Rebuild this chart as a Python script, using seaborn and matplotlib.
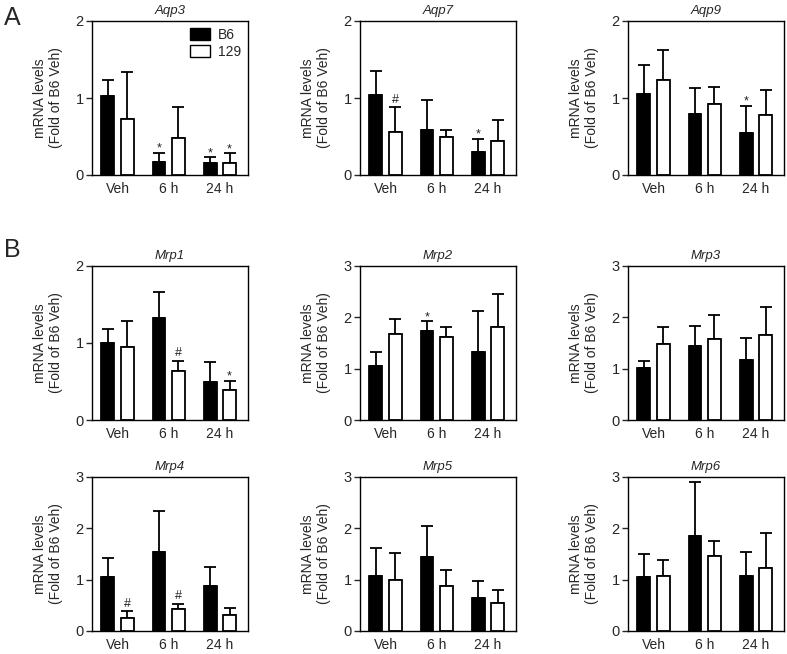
import pandas as pd
import matplotlib.pyplot as plt
import seaborn as sns
from matplotlib.patches import Patch


# Données (moyenne et écart-type, en fold of B6 Veh)
times = ["Veh", "6 h", "24 h"]
strains = ["B6", "129"]
genes = ["Aqp3", "Aqp7", "Aqp9", "Mrp1", "Mrp2", "Mrp3", "Mrp4", "Mrp5", "Mrp6"]
y_max = [2, 2, 2, 2, 3, 3, 3, 3, 3]

aqp3_b6 = [1.02, 0.17, 0.16]
aqp3_b6_sd = [0.22, 0.12, 0.07]
aqp3_129 = [0.73, 0.48, 0.16]
aqp3_129_sd = [0.61, 0.40, 0.12]

aqp7_b6 = [1.04, 0.58, 0.30]
aqp7_b6_sd = [0.31, 0.39, 0.17]
aqp7_129 = [0.56, 0.49, 0.44]
aqp7_129_sd = [0.32, 0.10, 0.27]

aqp9_b6 = [1.05, 0.79, 0.54]
aqp9_b6_sd = [0.38, 0.34, 0.36]
aqp9_129 = [1.23, 0.92, 0.78]
aqp9_129_sd = [0.39, 0.22, 0.32]

mrp1_b6 = [1.00, 1.32, 0.50]
mrp1_b6_sd = [0.18, 0.34, 0.25]
mrp1_129 = [0.95, 0.63, 0.39]
mrp1_129_sd = [0.34, 0.14, 0.12]

mrp2_b6 = [1.05, 1.74, 1.33]
mrp2_b6_sd = [0.28, 0.19, 0.80]
mrp2_129 = [1.68, 1.62, 1.81]
mrp2_129_sd = [0.29, 0.19, 0.65]

mrp3_b6 = [1.01, 1.44, 1.17]
mrp3_b6_sd = [0.13, 0.40, 0.42]
mrp3_129 = [1.49, 1.58, 1.66]
mrp3_129_sd = [0.32, 0.47, 0.55]

mrp4_b6 = [1.06, 1.53, 0.87]
mrp4_b6_sd = [0.36, 0.81, 0.37]
mrp4_129 = [0.25, 0.42, 0.31]
mrp4_129_sd = [0.13, 0.11, 0.13]

mrp5_b6 = [1.08, 1.45, 0.65]
mrp5_b6_sd = [0.53, 0.60, 0.32]
mrp5_129 = [1.00, 0.87, 0.55]
mrp5_129_sd = [0.52, 0.32, 0.25]

mrp6_b6 = [1.06, 1.85, 1.08]
mrp6_b6_sd = [0.44, 1.05, 0.45]
mrp6_129 = [1.08, 1.47, 1.23]
mrp6_129_sd = [0.31, 0.29, 0.67]

# Marques de significativité (* vs B6 Veh, # vs B6 même temps)
aqp3_b6_sig = ["", "*", "*"]
aqp3_129_sig = ["", "", "*"]
aqp7_b6_sig = ["", "", "*"]
aqp7_129_sig = ["#", "", ""]
aqp9_b6_sig = ["", "", "*"]
mrp1_129_sig = ["", "#", "*"]
mrp2_b6_sig = ["", "*", ""]
mrp4_129_sig = ["#", "#", ""]
no_sig = ["", "", ""]

panels = [
    (aqp3_b6, aqp3_b6_sd, aqp3_b6_sig, aqp3_129, aqp3_129_sd, aqp3_129_sig),
    (aqp7_b6, aqp7_b6_sd, aqp7_b6_sig, aqp7_129, aqp7_129_sd, aqp7_129_sig),
    (aqp9_b6, aqp9_b6_sd, aqp9_b6_sig, aqp9_129, aqp9_129_sd, no_sig),
    (mrp1_b6, mrp1_b6_sd, no_sig, mrp1_129, mrp1_129_sd, mrp1_129_sig),
    (mrp2_b6, mrp2_b6_sd, mrp2_b6_sig, mrp2_129, mrp2_129_sd, no_sig),
    (mrp3_b6, mrp3_b6_sd, no_sig, mrp3_129, mrp3_129_sd, no_sig),
    (mrp4_b6, mrp4_b6_sd, no_sig, mrp4_129, mrp4_129_sd, mrp4_129_sig),
    (mrp5_b6, mrp5_b6_sd, no_sig, mrp5_129, mrp5_129_sd, no_sig),
    (mrp6_b6, mrp6_b6_sd, no_sig, mrp6_129, mrp6_129_sd, no_sig),
]

sns.set_style("ticks")
plt.rcParams["font.family"] = ["Liberation Sans", "DejaVu Sans"]

W, H = 787, 654
fig = plt.figure(figsize=(W / 100, H / 100), dpi=100)

col_left = [92, 360, 628]
row_top = [21, 266, 477]
ax_w, ax_h = 156, 154

palette = {"B6": "black", "129": "white"}

for i, gene in enumerate(genes):
    b6, b6_sd, b6_sig, s129, s129_sd, s129_sig = panels[i]
    r, c = divmod(i, 3)
    left = col_left[c] / W
    bottom = (H - row_top[r] - ax_h) / H
    ax = fig.add_axes([left, bottom, ax_w / W, ax_h / H])

    df = pd.DataFrame({
        "time": times * 2,
        "strain": ["B6"] * 3 + ["129"] * 3,
        "value": b6 + s129,
    })

    sns.barplot(
        data=df, x="time", y="value", hue="strain",
        order=times, hue_order=strains, palette=palette,
        edgecolor="black", linewidth=1.3, width=0.76, gap=0.34,
        errorbar=None, legend=False, ax=ax,
    )

    for cont, sd, sig in zip(ax.containers, [b6_sd, s129_sd], [b6_sig, s129_sig]):
        xs = [bar.get_x() + bar.get_width() / 2 for bar in cont]
        ys = [bar.get_height() for bar in cont]
        ax.errorbar(xs, ys, yerr=[[0] * len(sd), sd], fmt="none",
                    ecolor="black", elinewidth=1.3, capsize=4, capthick=1.3,
                    zorder=0.5)
        for x, y, e, s in zip(xs, ys, sd, sig):
            if s:
                ax.annotate(s, (x, y + e), xytext=(0, 1 if s == "#" else -1.5),
                            textcoords="offset points", ha="center",
                            va="bottom", fontsize=9, color="#222222")

    ax.set_xlim(-0.5, 2.55)
    ax.set_ylim(0, y_max[i])
    ax.set_yticks(range(y_max[i] + 1))
    ax.set_title(gene, fontsize=9.5, fontstyle="italic", pad=5)
    ax.set_xlabel("")
    ax.set_ylabel("mRNA levels\n(Fold of B6 Veh)", fontsize=10, labelpad=9)
    ax.tick_params(axis="y", length=4, width=1, labelsize=10.5, pad=2)
    ax.tick_params(axis="x", length=0, labelsize=10, pad=5)
    for sp in ax.spines.values():
        sp.set_visible(True)
        sp.set_color("black")
        sp.set_linewidth(1)

    if i == 0:
        handles = [Patch(facecolor="black", edgecolor="black", label="B6"),
                   Patch(facecolor="white", edgecolor="black", label="129")]
        ax.legend(handles=handles, loc="upper right", frameon=False,
                  fontsize=10, handlelength=1.4, handleheight=0.9,
                  borderaxespad=0.1, labelspacing=0.2, handletextpad=0.6)

fig.text(12 / W, 1 - 18 / H, "A", fontsize=18, ha="center", va="center")
fig.text(12 / W, 1 - 250 / H, "B", fontsize=18, ha="center", va="center")

fig.savefig("out.png", dpi=100)
